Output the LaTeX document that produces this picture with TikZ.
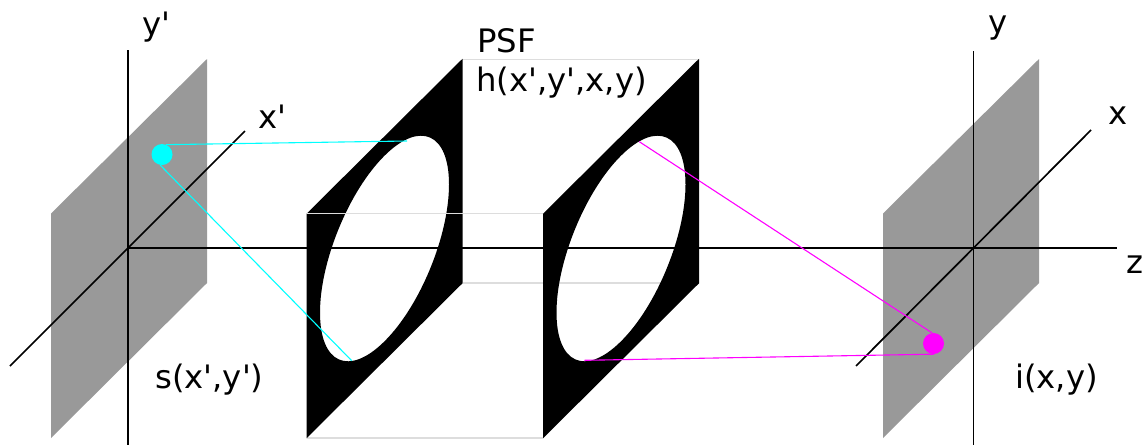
\documentclass[tikz,border=0pt]{standalone}
\usepackage{fontspec}
\setmainfont{DejaVu Sans}[Ligatures=TeXOff]
\usepackage{xcolor}
\definecolor{Plane}{RGB}{153, 153, 153}
\definecolor{Guide}{RGB}{221, 221, 221}
\definecolor{Source}{RGB}{0, 255, 255}
\definecolor{Image}{RGB}{255, 0, 255}

\begin{document}
\begin{tikzpicture}[
    x=1pt, y=-1pt,
    planebox/.style={fill=Plane},
    plate/.style={fill=black, even odd rule, yslant=.9936},
    axis/.style={line width=1.7pt, black},
    guide/.style={line width=1.3pt, Guide},
    srcray/.style={line width=1.1pt, Source},
    imgray/.style={line width=1.1pt, Image},
    dot/.style={circle, inner sep=0pt, minimum size=21pt},
    label/.style={anchor=base west, inner sep=0pt, font=\fontsize{32.3}{38}\selectfont},
]
\useasboundingbox (0,0) rectangle (1142,445);

\coordinate (srcorigin) at (128,248);
\coordinate (imgorigin) at (973.5,248);
\coordinate (zend) at (1117,248);
\coordinate (srctop) at (407,141);
\coordinate (srcbottom) at (351.7,360.7);
\coordinate (imgtop) at (639.3,141.7);
\coordinate (imgbottom) at (584.3,360.3);

\fill[planebox] (51,213.5) -- (207,59) -- (207,283) -- (51,438) -- cycle;
\fill[planebox] (883,213.5) -- (1039,59) -- (1039,283) -- (883,438) -- cycle;

\draw[guide] (462.5,59.5) -- (699,59.5);
\draw[guide] (306.5,438) -- (543,438);

\begin{scope}[shift={(384.5,248.5)}, plate]
\fill (-78,-112.25) rectangle (78,112.25) (0,0) ellipse [x radius=64.5pt, y radius=92.8pt];
\end{scope}

\draw[guide] (306.5,213.5) -- (543,213.5);
\draw[guide] (462.5,283) -- (699,283);

\begin{scope}[shift={(621,248.5)}, plate]
\fill (-78,-112.25) rectangle (78,112.25) (0,0) ellipse [x radius=64.5pt, y radius=92.8pt];
\end{scope}

\draw[axis] (128,50) -- (128,445);
\draw[axis] (10,366) -- (245,131);
\draw[axis] (973.5,51) -- (973.5,445);
\draw[axis] (856,366) -- (1091,130);
\draw[axis] (srcorigin) -- (zend);

\node[dot, fill=Source] (srcdot) at (162,154.5) {};
\node[dot, fill=Image] (imgdot) at (933.5,343.5) {};

\draw[srcray] (srcdot.67) -- (srctop);
\draw[srcray] (srcdot.260) -- (srcbottom);
\draw[imgray] (imgdot.98) -- (imgtop);
\draw[imgray] (imgdot.275) -- (imgbottom);

\node[label] (ylabelsrc) at (142,35) {y'};
\node[label] (xlabelsrc) at (258,128) {x'};
\node[label] (srcname) at (155,388) {s(x',y')};
\node[label] (psf) at (477,52) {PSF};
\node[label] (psfname) at (476,91) {h(x',y',x,y)};
\node[label] (ylabelimg) at (988,33) {y};
\node[label] (xlabelimg) at (1108,124) {x};
\node[label] (zlabel) at (1126,273) {z};
\node[label] (imgname) at (1015,388) {i(x,y)};
\end{tikzpicture}
\end{document}
